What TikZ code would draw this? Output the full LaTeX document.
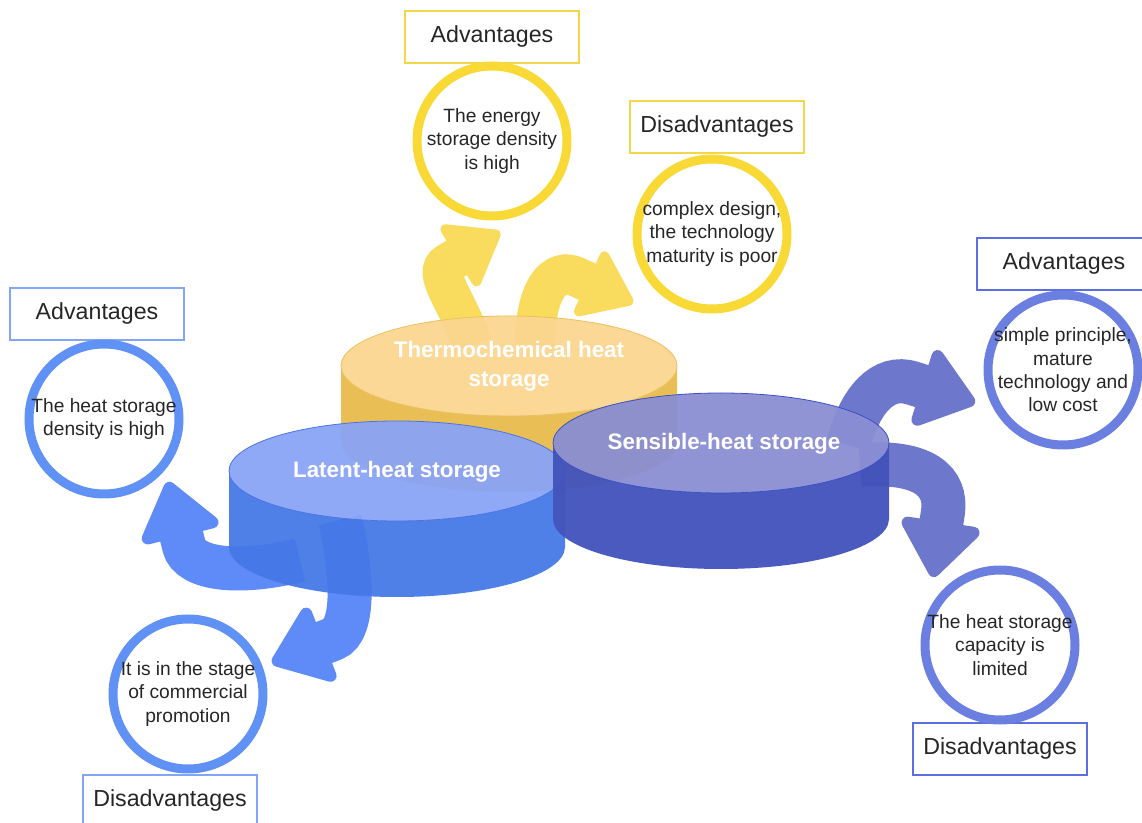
\documentclass[tikz,border=0pt]{standalone}
\usepackage{fontspec}
\setmainfont{Liberation Sans}
\usepackage{tikz}
\usetikzlibrary{arrows.meta}
\definecolor{txt}{HTML}{262626}
\definecolor{thermotop}{HTML}{FBD68F}
\definecolor{thermoside}{HTML}{E8BB4C}
\definecolor{thermoedge}{HTML}{E9C15E}
\definecolor{thermoarrow}{HTML}{F9DC5E}
\definecolor{thermoring}{HTML}{F9D936}
\definecolor{thermotag}{HTML}{F4D64A}
\definecolor{latenttop}{HTML}{8AA4F7}
\definecolor{latentside}{HTML}{4579E7}
\definecolor{latentedge}{HTML}{4A74E2}
\definecolor{latentarrow}{HTML}{5E8BF7}
\definecolor{latentring}{HTML}{6091F5}
\definecolor{latenttag}{HTML}{82A6F6}
\definecolor{senstop}{HTML}{8A8ED3}
\definecolor{sensside}{HTML}{4353BB}
\definecolor{sensedge}{HTML}{3C4FC6}
\definecolor{sensarrow}{HTML}{6D78CC}
\definecolor{sensring}{HTML}{6B7FE1}
\definecolor{senstag}{HTML}{5B6FE3}

\begin{document}
\begin{tikzpicture}[x=0.5pt, y=-0.5pt,
    ring/.style={circle, draw=#1, line width=4.5pt, minimum size=75pt, inner sep=0pt},
    ringtext/.style={align=center, text=txt, inner sep=0pt, font=\fontsize{9.6}{11.7}\selectfont},
    tag/.style={draw=#1, line width=0.6pt, minimum width=87pt, minimum height=26pt, inner sep=0pt, text=txt, font=\fontsize{11.6}{13}\selectfont},
    caption/.style={align=center, text=white, font=\bfseries\fontsize{11.2}{14.5}\selectfont},
    flow/.style={draw=#1, line width=22pt, -{Triangle[length=30pt, width=44pt, line width=6pt, round]}},
    smallflow/.style={draw=#1, line width=20pt, -{Triangle[length=27pt, width=39pt, line width=5pt, round]}},
  ]
\useasboundingbox (0,0) rectangle (1142,823);

% curved arrows, behind the discs
\coordinate (tadvfrom) at (472,345);
\coordinate (tadvto) at (500,232);
\coordinate (tdisfrom) at (535,345);
\coordinate (tdisto) at (633,303);
\coordinate (sadvfrom) at (848,445);
\coordinate (sadvto) at (975,403);
\coordinate (sdisfrom) at (860,465);
\coordinate (sdisto) at (933,577);
\coordinate (ladvfrom) at (300,560);
\coordinate (ladvto) at (168,482);
\coordinate (ldisfrom) at (340,520);
\coordinate (ldisto) at (272,663);

\draw[smallflow=thermoarrow] (tadvfrom) .. controls (458,300) and (431,273) .. (448,263) -- (tadvto);
\draw[smallflow=thermoarrow] (tdisfrom) .. controls (535,290) and (554,266) .. (577,277) -- (tdisto);
\draw[flow=sensarrow] (sadvfrom) .. controls (860,400) and (883,374) .. (912,383) -- (sadvto);
\draw[flow=sensarrow] (sdisfrom) .. controls (925,460) and (947,482) .. (943,512) -- (sdisto);
\draw[flow=latentarrow] (ladvfrom) .. controls (240,575) and (190,570) .. (184,546) -- (ladvto);
\draw[flow=latentarrow] (ldisfrom) .. controls (352,570) and (356,630) .. (333,639) -- (ldisto);

% thermochemical disc
\fill[thermoside, fill opacity=0.95] (341,366) -- (341,442) arc[start angle=180, end angle=0, x radius=168, y radius=50]
  -- (677,366) arc[start angle=0, end angle=180, x radius=168, y radius=50] -- cycle;
\draw[thermoedge, fill=thermotop, fill opacity=0.95] (509,366) ellipse[x radius=168, y radius=50];
\node[caption] (thermo) at (509,366) {Thermochemical heat\\storage};

% latent disc
\fill[latentside, fill opacity=0.95] (229,471) -- (229,547) arc[start angle=180, end angle=0, x radius=168, y radius=50]
  -- (565,471) arc[start angle=0, end angle=180, x radius=168, y radius=50] -- cycle;
\draw[latentedge, fill=latenttop, fill opacity=0.95] (397,471) ellipse[x radius=168, y radius=50];
\node[caption] (latent) at (397,472) {Latent-heat storage};

% sensible disc
\fill[sensside, fill opacity=0.96] (553,443) -- (553,519) arc[start angle=180, end angle=0, x radius=168, y radius=50]
  -- (889,443) arc[start angle=0, end angle=180, x radius=168, y radius=50] -- cycle;
\draw[sensedge, fill=senstop, fill opacity=0.95] (721,443) ellipse[x radius=168, y radius=50];
\node[caption] (sens) at (724,444) {Sensible-heat storage};

% tags
\node[tag=thermotag] (tadvtag) at (492,37) {Advantages};
\node[tag=thermotag] (tdistag) at (717,127) {Disadvantages};
\node[tag=senstag] (sadvtag) at (1064,264) {Advantages};
\node[tag=senstag] (sdistag) at (1000,749) {Disadvantages};
\node[tag=latenttag] (ladvtag) at (97,314) {Advantages};
\node[tag=latenttag] (ldistag) at (170,801) {Disadvantages};

% rings
\node[ring=thermoring] (tadv) at (492,141) {};
\node[ringtext] (tadvtxt) at (tadv) {The energy\\storage density\\is high};
\node[ring=thermoring] (tdis) at (712,234) {};
\node[ringtext] (tdistxt) at (tdis) {complex design,\\the technology\\maturity is poor};
\node[ring=sensring] (sadv) at (1063,370) {};
\node[ringtext] (sadvtxt) at (sadv) {simple principle,\\mature\\technology and\\low cost};
\node[ring=sensring] (sdis) at (1000,645) {};
\node[ringtext] (sdistxt) at (sdis) {The heat storage\\capacity is\\limited};
\node[ring=latentring] (ladv) at (104,419) {};
\node[ringtext] (ladvtxt) at (ladv) {The heat storage\\density is high};
\node[ring=latentring] (ldis) at (188,694) {};
\node[ringtext] (ldistxt) at (ldis) {It is in the stage\\of commercial\\promotion};
\end{tikzpicture}
\end{document}
